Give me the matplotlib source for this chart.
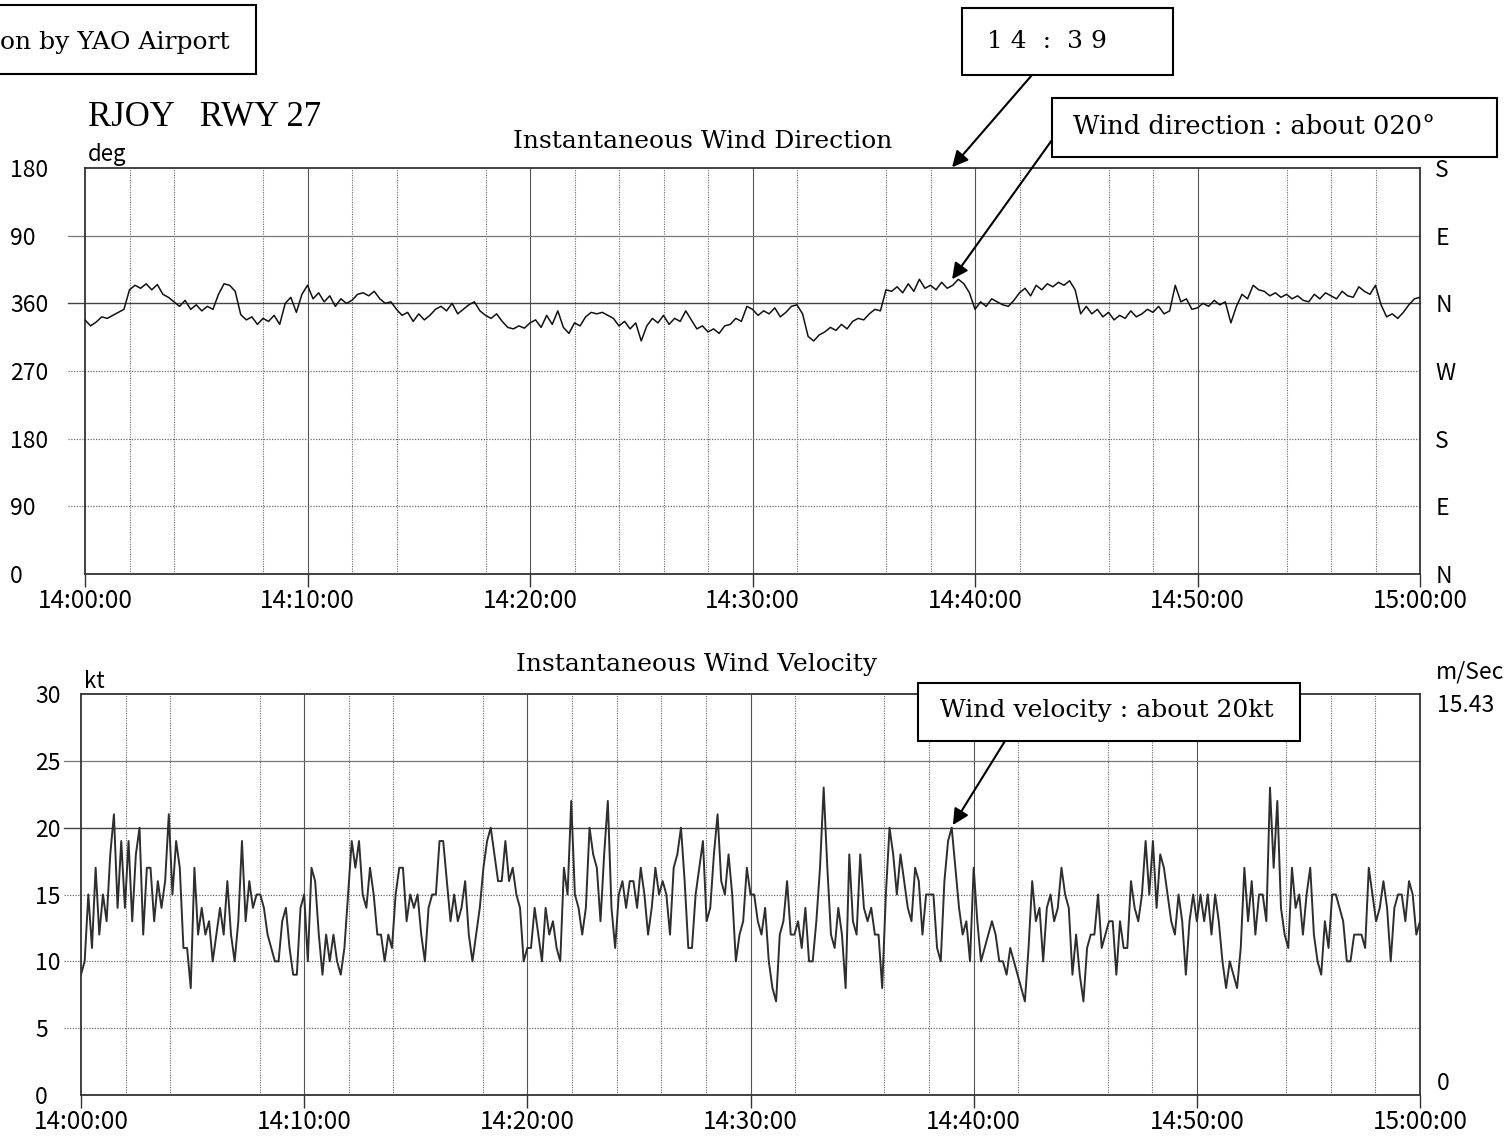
import numpy as np
import matplotlib
matplotlib.use("Agg")
import matplotlib.pyplot as plt
from matplotlib.patches import Rectangle

W, H = 1507, 1137

# wind direction on the recorder scale (0..540, 360 = N, 380 = 020 deg), every 15 s from 14:00:00
dir_chart = [
    338, 330, 335, 342, 340, 344, 348, 352, 378, 384, 380, 386, 378, 385, 372, 368,
    362, 356, 364, 352, 358, 350, 356, 352, 372, 386, 384, 376, 345, 338, 342, 332,
    340, 336, 344, 332, 360, 368, 348, 372, 384, 366, 374, 362, 370, 356, 366, 360,
    364, 372, 374, 370, 376, 366, 360, 362, 352, 344, 348, 336, 346, 338, 344, 352,
    356, 350, 360, 346, 352, 358, 362, 350, 344, 340, 346, 336, 328, 326, 330, 327,
    334, 338, 328, 344, 332, 350, 328, 320, 334, 330, 342, 348, 346, 348, 344, 340,
    330, 336, 326, 334, 310, 330, 340, 334, 344, 332, 340, 336, 350, 338, 326, 330,
    322, 326, 320, 330, 332, 340, 336, 356, 352, 344, 350, 346, 354, 342, 348, 356,
    358, 346, 316, 310, 318, 322, 328, 324, 332, 326, 336, 340, 338, 346, 352, 350,
    378, 376, 382, 374, 386, 376, 392, 380, 384, 378, 388, 380, 384, 392, 386, 374,
    352, 362, 356, 366, 362, 358, 356, 364, 374, 380, 370, 384, 378, 386, 382, 388,
    384, 390, 378, 346, 356, 346, 352, 342, 348, 338, 344, 340, 350, 342, 346, 352,
    348, 356, 346, 350, 384, 362, 366, 352, 354, 360, 356, 364, 358, 362, 334, 356,
    372, 366, 384, 378, 376, 370, 374, 368, 372, 366, 370, 364, 362, 372, 366, 374,
    370, 366, 376, 370, 368, 382, 376, 372, 384, 358, 342, 346, 340, 348, 358, 366,
    368,
]

# wind speed in kt, about every 10 s from 14:00:00
speed_kt = [
    9, 10, 15, 11, 17, 12, 15, 13, 18, 21, 14, 19, 14, 19, 13, 18, 20, 12, 17, 17,
    13, 16, 14, 16, 21, 15, 19, 17, 11, 11, 8, 17, 12, 14, 12, 13, 10, 12, 14, 12,
    16, 12, 10, 13, 19, 13, 16, 14, 15, 15, 14, 12, 11, 10, 10, 13, 14, 11, 9, 9,
    14, 15, 10, 17, 16, 12, 9, 12, 10, 12, 10, 9, 11, 15, 19, 17, 19, 15, 14, 17,
    15, 12, 12, 10, 12, 11, 15, 17, 17, 13, 15, 14, 15, 12, 10, 14, 15, 15, 19, 19,
    16, 13, 15, 13, 14, 16, 12, 10, 12, 14, 17, 19, 20, 18, 16, 16, 19, 16, 17, 15,
    14, 10, 11, 11, 14, 12, 10, 14, 12, 13,
    11, 10, 17, 15, 22, 15, 14, 12, 14, 20, 18, 17, 13, 18, 22, 14, 11, 15, 16, 14,
    16, 16, 14, 17, 15, 12, 14, 17, 15, 16, 15, 12, 17, 18, 20, 16, 11, 11, 15, 17,
    19, 13, 14, 18, 21, 16, 15, 18, 15, 10, 12, 13, 17, 15, 15, 13, 12, 14, 10, 8,
    7, 12, 13, 16, 12, 12, 13, 11, 14, 10, 10, 13, 17, 23, 17, 12, 11, 14, 12, 8,
    18, 13, 12, 18, 14, 13, 14, 12, 12, 8, 15, 20, 18, 15, 18, 16, 14, 13, 17, 16,
    12, 15, 15, 15, 11, 10, 16, 19, 20, 17, 14, 12, 13, 10, 17, 13, 10, 11, 12, 13,
    12, 10, 10, 9, 11, 10, 9, 8,
    7, 11, 16, 13, 14, 10, 14, 15, 13, 14, 17, 15, 14, 9, 12, 9, 7, 11, 12, 12,
    15, 11, 12, 13, 13, 9, 13, 11, 11, 16, 14, 13, 15, 19, 15, 19, 14, 18, 17, 15,
    13, 12, 15, 13, 9, 13, 15, 13, 15, 13, 15, 12, 15, 13, 10, 8, 10, 9, 8, 11,
    17, 13, 16, 12, 15, 15, 13, 23, 17, 22, 14, 12, 11, 17, 14, 15, 12, 15, 17, 12,
    10, 9, 13, 11, 15, 15, 14, 13, 10, 10, 12, 12, 12, 11, 17, 15, 13, 14, 16, 14,
    10, 14, 15, 15, 13, 16, 15, 12, 13,
]

dir_ticks = [0, 90, 180, 270, 360, 450, 540]
dir_left = ["0", "90", "180", "270", "360", "90", "180"]
dir_right = ["N", "E", "S", "W", "N", "E", "S"]
kt_ticks = [0, 5, 10, 15, 20, 25, 30]
time_ticks = [0, 10, 20, 30, 40, 50, 60]
time_labels = ["14:00:00", "14:10:00", "14:20:00", "14:30:00", "14:40:00", "14:50:00", "15:00:00"]
# 2-minute dotted grid (some lines did not print on the recorder sheet)
dotted_minutes = [2, 4, 8, 12, 14, 18, 22, 24, 26, 28, 32, 36, 38, 42, 46, 48, 54, 56, 58]

GOTHIC = ["Noto Sans CJK JP", "DejaVu Sans"]
SERIF = "DejaVu Serif"
GRID = "#6a6a6a"


def px(x, y):
    return x / W, 1 - y / H


def grid(ax, solid, light, dotted):
    for m in dotted_minutes:
        ax.axvline(m, color=GRID, lw=0.8, ls=(0, (1, 1.2)), zorder=1)
    for m in time_ticks[1:-1]:
        ax.axvline(m, color="#555555", lw=0.8, zorder=1)
    for y in solid:
        ax.axhline(y, xmin=-0.013, color="#444444", lw=1.0, clip_on=False, zorder=1)
    for y in light:
        ax.axhline(y, xmin=-0.013, color="#777777", lw=0.9, clip_on=False, zorder=1)
    for y in dotted:
        ax.axhline(y, xmin=-0.013, color=GRID, lw=0.9, ls=(0, (1, 1.2)), clip_on=False, zorder=1)
    for s in ax.spines.values():
        s.set_color("#333333")
        s.set_linewidth(1.3)
    ax.set_xlim(0, 60)
    ax.set_xticks(time_ticks, time_labels, family=GOTHIC, fontsize=17.5)
    ax.tick_params(axis="x", direction="out", length=9, width=1, color="#333333", pad=1)


fig = plt.figure(figsize=(W / 100, H / 100), dpi=100)

# --- wind direction panel
ax1 = fig.add_axes([85 / W, 1 - 574 / H, 1335 / W, 406 / H])
t_dir = np.linspace(0, 60, len(dir_chart))
ax1.plot(t_dir, dir_chart, color="#111111", lw=1.1, zorder=3)
ax1.set_ylim(0, 540)
grid(ax1, [360], [450], [90, 180, 270])
ax1.set_yticks(dir_ticks, dir_left, family=GOTHIC, fontsize=16.5, ha="left")
ax1.tick_params(axis="y", length=0, pad=54)
ax1r = ax1.twinx()
ax1r.set_ylim(0, 540)
ax1r.set_yticks(dir_ticks, dir_right, family=GOTHIC, fontsize=16.5)
ax1r.tick_params(axis="y", length=0, pad=11)
for s in ax1r.spines.values():
    s.set_visible(False)
ax1.text(0.002, 1.005, "deg", transform=ax1.transAxes, family=GOTHIC, fontsize=16, va="bottom")

# --- wind speed panel
ax2 = fig.add_axes([81 / W, 1 - 1095 / H, 1339 / W, 401 / H])
t_kt = np.linspace(0, 60, len(speed_kt))
ax2.plot(t_kt, speed_kt, color="#2e2e2e", lw=1.4, zorder=3)
ax2.set_ylim(0, 30)
grid(ax2, [20], [25], [5, 10, 15])
ax2.set_yticks(kt_ticks, [str(k) for k in kt_ticks], family=GOTHIC, fontsize=16.5, ha="left")
ax2.tick_params(axis="y", length=0, pad=33)
ax2r = ax2.twinx()
ax2r.set_ylim(0, 30)
ax2r.set_yticks([0, 30], ["0", "15.43"], family=GOTHIC, fontsize=16.5)
ax2r.tick_params(axis="y", length=0, pad=12)
lbls = ax2r.get_yticklabels()
lbls[0].set_va("bottom")
lbls[1].set_va("top")
for s in ax2r.spines.values():
    s.set_visible(False)
ax2.text(0.002, 1.003, "kt", transform=ax2.transAxes, family=GOTHIC, fontsize=16, va="bottom")
ax2.text(1.012, 1.025, "m/Sec", transform=ax2.transAxes, family=GOTHIC, fontsize=16.5, va="bottom")

# titles
fig.text(*px(703, 141), "Instantaneous Wind Direction", family=SERIF, fontsize=18, ha="center", va="center")
fig.text(*px(697, 664), "Instantaneous Wind Velocity", family=SERIF, fontsize=18, ha="center", va="center")
fig.text(*px(88, 117), "RJOY   RWY 27", family="Liberation Serif", fontsize=25, ha="left", va="center")


# annotation boxes
def box(x0, y0, x1, y1):
    fig.add_artist(Rectangle(px(x0, y1), (x1 - x0) / W, (y1 - y0) / H, transform=fig.transFigure,
                             facecolor="white", edgecolor="black", lw=1.5, zorder=4))


box(-10, 5, 256, 74)
fig.text(*px(0, 42), "on by YAO Airport", family=SERIF, fontsize=18, ha="left", va="center", zorder=5)
box(962, 8, 1173, 75)
fig.text(*px(987, 42), "1 4  :  3 9", family=SERIF, fontsize=18, ha="left", va="center", zorder=5)
box(1052, 98, 1497, 157)
fig.text(*px(1073, 127), "Wind direction : about 020°", family=SERIF, fontsize=18.5, ha="left", va="center", zorder=5)
box(918, 683, 1300, 741)
fig.text(*px(940, 711), "Wind velocity : about 20kt", family=SERIF, fontsize=18, ha="left", va="center", zorder=5)

arrow = dict(arrowstyle="-|>", color="black", lw=1.5, mutation_scale=24, shrinkA=0, shrinkB=0)
ax1.annotate("", xy=(38.97, 541), xytext=px(1032, 75), textcoords="figure fraction",
             arrowprops=arrow, annotation_clip=False)
ax1.annotate("", xy=(38.97, 392), xytext=px(1052, 140), textcoords="figure fraction",
             arrowprops=arrow, annotation_clip=False)
ax2.annotate("", xy=(39.07, 20.2), xytext=px(1005, 741), textcoords="figure fraction",
             arrowprops=arrow, annotation_clip=False)

fig.savefig("out.png", dpi=100)
